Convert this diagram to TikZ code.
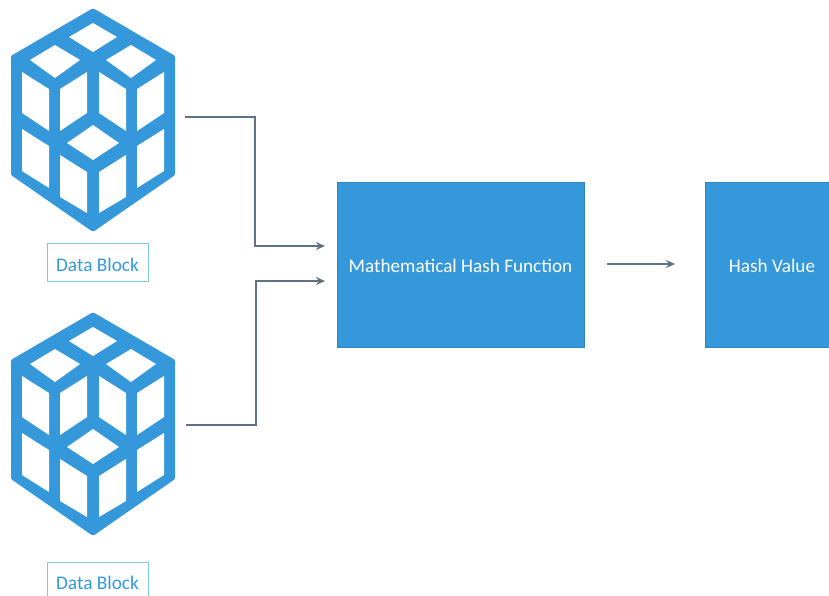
\documentclass[tikz,border=0pt]{standalone}
\usepackage{fontspec}
\setmainfont{Carlito}
\definecolor{hashblue}{HTML}{3498DB}
\definecolor{hashedge}{HTML}{2F86BF}
\definecolor{labeledge}{HTML}{7FCBDA}
\definecolor{linkgray}{HTML}{5F7186}
\usetikzlibrary{arrows.meta}
\tikzset{
  blockicon/.pic={
    \fill[hashblue,draw=hashblue,line width=4pt,line join=round]
      (93,10.5) -- (173,57) -- (173,174) -- (93,229.5) -- (13,174) -- (13,57) -- cycle;
    \fill[white]
      (93,23) -- (117,37) -- (93,52) -- (69,37) -- cycle
      (55,45) -- (80,60) -- (55,78) -- (30,60) -- cycle
      (131,45) -- (156,60) -- (131,78) -- (106,60) -- cycle
      (93,125) -- (119,143) -- (93,160) -- (67,143) -- cycle
      (22,72) -- (49,89) -- (49,131) -- (22,113) -- cycle
      (87,72) -- (87,113) -- (60,131) -- (60,89) -- cycle
      (99,72) -- (126,89) -- (126,131) -- (99,113) -- cycle
      (164,72) -- (164,113) -- (137,131) -- (137,89) -- cycle
      (22,129) -- (49,146) -- (49,188) -- (22,171) -- cycle
      (164,129) -- (164,171) -- (137,188) -- (137,146) -- cycle
      (60,155) -- (87,172) -- (87,213) -- (60,197) -- cycle
      (126,155) -- (126,197) -- (99,213) -- (99,172) -- cycle;
  },
  blockarea/.style={minimum width=164pt,minimum height=224pt,inner sep=0pt},
  blocklabel/.style={draw=labeledge,line width=1pt,text=hashblue,font=\fontsize{19.3}{23}\selectfont,
    minimum width=101pt,minimum height=38pt,inner sep=0pt,text height=17pt,text depth=0pt},
  hashbox/.style={fill=hashblue,draw=hashedge,line width=1pt,text=white,
    font=\fontsize{19.2}{23}\selectfont,minimum height=165pt,inner sep=0pt,text height=15pt,text depth=0pt},
  link/.style={draw=linkgray,line width=1.7pt,-{Stealth[length=9pt,width=8pt]}},
}
\begin{document}
\begin{tikzpicture}[x=1pt,y=-1pt]
\clip (0,0) rectangle (829,596);
\pic at (0,0) {blockicon};
\pic at (0,304) {blockicon};
\node[blockarea] (blockA) at (93,120) {};
\node[blockarea] (blockB) at (93,424) {};
\node[blocklabel] (labelA) at (97.5,262.5) {Data Block};
\node[blocklabel] (labelB) at (97.5,581) {Data Block};
\node[hashbox,minimum width=247pt] (hashfn) at (460.5,265) {Mathematical Hash Function};
\node[hashbox,minimum width=134pt] (hashval) at (772,265) {Hash Value};
\coordinate (inA) at (325,246);
\coordinate (inB) at (325,281);
\coordinate (startA) at (185,117);
\coordinate (startB) at (186,425);
\coordinate (startC) at (607,264);
\coordinate (endC) at (675,264);
\draw[link] (startA) -- (255,117) -- (255,246) -- (inA);
\draw[link] (startB) -- (256,425) -- (256,281) -- (inB);
\draw[link] (startC) -- (endC);
\end{tikzpicture}
\end{document}
